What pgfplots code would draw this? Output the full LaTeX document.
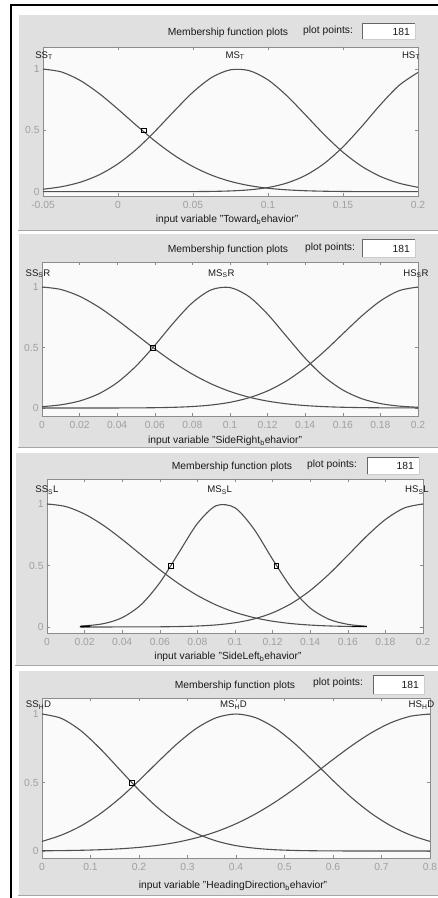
\documentclass[border=0pt]{standalone}
\usepackage{pgfplots}
\pgfplotsset{compat=1.18}
\usepackage{fontspec}
\setmainfont{Liberation Sans}
\definecolor{panel}{HTML}{E0E0E0}
\definecolor{axbg}{HTML}{FAFAFA}
\definecolor{boxgray}{HTML}{8C8C8C}
\definecolor{tickgray}{HTML}{A0A0A0}
\definecolor{curve}{HTML}{505050}
\definecolor{txt}{HTML}{1A1A1A}
\newcommand\sz{\fontsize{10.3bp}{12bp}\selectfont}
\newcommand\lz{\fontsize{9.6bp}{11bp}\selectfont}
\pgfplotsset{
  mf/.style={
    scale only axis, anchor=south west,
    axis background/.style={fill=axbg},
    axis line style={draw=boxgray, line width=0.7bp},
    tick align=inside, major tick length=3bp,
    tick style={draw=boxgray, line width=0.6bp},
    ytick={0,0.5,1}, yticklabels={0,0.5,1},
    ticklabel style={font=\sz, text=tickgray},
    xticklabel style={yshift=-1.5bp},
    /pgf/number format/assume math mode=true,
    clip=false,
  },
  crv/.style={draw=curve, line width=1.1bp, smooth, mark=none},
  sel/.style={only marks, mark=square, mark size=2.4bp, mark options={draw=black, line width=0.6bp, fill=none}},
}
\begin{document}
\begin{tikzpicture}[x=1bp,y=1bp]
\useasboundingbox (0,0) rectangle (438,898);
\fill[white] (0,0) rectangle (438,898);
% panels
\fill[panel] (18,668) rectangle (438,883);
\fill[panel] (18,451) rectangle (438,664);
\fill[panel] (15,233) rectangle (438,445);
\fill[panel] (18,3) rectangle (438,227);
\draw[white, line width=1bp] (18,668) -- (18,883) -- (438,883);
\draw[white, line width=1bp] (18,451) -- (18,664) -- (438,664);
\draw[white, line width=1bp] (15,233) -- (15,445) -- (438,445);
\draw[white, line width=1bp] (18,3) -- (18,227) -- (438,227);
\draw[black!35, line width=0.8bp] (18,668) -- (438,668);
\draw[black!35, line width=0.8bp] (18,451) -- (438,451);
\draw[black!35, line width=0.8bp] (15,233) -- (438,233);
\draw[black!35, line width=0.8bp] (18,3) -- (438,3);
% outer border
\draw[black, line width=2bp] (11,0) -- (11,892.5) -- (438,892.5);

% ---------- Panel 1 ----------
\begin{axis}[mf, at={(43bp,702bp)}, width=375bp, height=149bp,
  xmin=-0.05, xmax=0.2, ymin=-0.035, ymax=1.18,
  xtick={-0.05,0,0.05,0.1,0.15,0.2}, xticklabels={-0.05,0,0.05,0.1,0.15,0.2}]
\addplot[crv] coordinates {(-0.05,1) (-0.0375,0.9755) (-0.025,0.9056) (-0.0125,0.800) (0,0.6725) (0.0125,0.538) (0.025,0.4095) (0.0375,0.2967) (0.05,0.2045) (0.0625,0.1341) (0.075,0.0837) (0.0875,0.0497) (0.1,0.0281) (0.1125,0.0151) (0.125,0.0077) (0.1375,0.0038) (0.15,0.0017) (0.1625,0.0007) (0.175,0.0003) (0.1875,0.0001) (0.2,0)};
\addplot[crv] coordinates {(-0.05,0.020) (-0.0375,0.0409) (-0.025,0.0779) (-0.0125,0.138) (0,0.2274) (0.0125,0.348) (0.025,0.4965) (0.0375,0.658) (0.05,0.812) (0.0625,0.9316) (0.075,0.994) (0.0875,0.987) (0.1,0.9116) (0.1125,0.783) (0.125,0.6258) (0.1375,0.4652) (0.15,0.3217) (0.1625,0.2069) (0.175,0.1238) (0.1875,0.0689) (0.2,0.0357)};
\addplot[crv] coordinates {(-0.05,0) (-0.025,0) (0,0) (0.025,0.0001) (0.0375,0.0003) (0.05,0.0008) (0.0625,0.0023) (0.075,0.0062) (0.0875,0.0151) (0.1,0.034) (0.1125,0.0703) (0.125,0.1329) (0.1375,0.2304) (0.15,0.3658) (0.1625,0.532) (0.175,0.710) (0.1875,0.868) (0.2,0.9725)};
\addplot[sel] coordinates {(0.017,0.5)};
\node[anchor=base, font=\lz, text=txt, xshift=1bp] at (axis cs:-0.05,1.09) {SS\textsubscript{T}};
\node[anchor=base, font=\lz, text=txt, xshift=-3bp] at (axis cs:0.08,1.09) {MS\textsubscript{T}};
\node[anchor=base, font=\lz, text=txt, xshift=-7bp] at (axis cs:0.2,1.09) {HS\textsubscript{T}};
\end{axis}

% ---------- Panel 2 ----------
\begin{axis}[mf, at={(42bp,482bp)}, width=376bp, height=154bp,
  xmin=0, xmax=0.2, ymin=-0.066, ymax=1.207,
  xtick={0,0.02,0.04,0.06,0.08,0.1,0.12,0.14,0.16,0.18,0.2},
  xticklabels={0,0.02,0.04,0.06,0.08,0.1,0.12,0.14,0.16,0.18,0.2}]
\addplot[crv] coordinates {(0,1) (0.01,0.980) (0.02,0.9235) (0.03,0.836) (0.04,0.727) (0.05,0.608) (0.06,0.488) (0.07,0.377) (0.08,0.2797) (0.09,0.1994) (0.1,0.1366) (0.11,0.0899) (0.12,0.0569) (0.13,0.0346) (0.14,0.0202) (0.15,0.0113) (0.16,0.0061) (0.17,0.0032) (0.18,0.0016) (0.19,0.0008) (0.2,0.0004)};
\addplot[crv] coordinates {(0,0.0109) (0.01,0.0264) (0.02,0.058) (0.03,0.1159) (0.04,0.210) (0.05,0.3463) (0.06,0.518) (0.07,0.705) (0.08,0.8705) (0.09,0.9768) (0.1,0.9957) (0.11,0.922) (0.12,0.7757) (0.13,0.5929) (0.14,0.4116) (0.15,0.2596) (0.16,0.1488) (0.17,0.0774) (0.18,0.0366) (0.19,0.0157) (0.2,0.0061)};
\addplot[crv] coordinates {(0,0) (0.01,0) (0.02,0) (0.03,0.0001) (0.04,0.0004) (0.05,0.0010) (0.06,0.0025) (0.07,0.0057) (0.08,0.0122) (0.09,0.0247) (0.1,0.047) (0.11,0.084) (0.12,0.1413) (0.13,0.2235) (0.14,0.3326) (0.15,0.4656) (0.16,0.613) (0.17,0.7594) (0.18,0.885) (0.19,0.970) (0.2,1)};
\addplot[sel] coordinates {(0.059,0.5)};
\node[anchor=base, font=\lz, text=txt, xshift=-4bp] at (axis cs:0,1.09) {SS\textsubscript{S}R};
\node[anchor=base, font=\lz, text=txt, xshift=-3bp] at (axis cs:0.097,1.09) {MS\textsubscript{S}R};
\node[anchor=base, font=\lz, text=txt, xshift=-2bp] at (axis cs:0.2,1.09) {HS\textsubscript{S}R};
\end{axis}

% ---------- Panel 3 ----------
\begin{axis}[mf, at={(47bp,265bp)}, width=376bp, height=154bp,
  xmin=0, xmax=0.2, ymin=-0.049, ymax=1.203,
  xtick={0,0.02,0.04,0.06,0.08,0.1,0.12,0.14,0.16,0.18,0.2},
  xticklabels={0,0.02,0.04,0.06,0.08,0.1,0.12,0.14,0.16,0.18,0.2}]
\addplot[crv] coordinates {(0,1) (0.01,0.979) (0.02,0.918) (0.03,0.826) (0.04,0.7115) (0.05,0.5875) (0.06,0.465) (0.07,0.3525) (0.08,0.2562) (0.09,0.1785) (0.1,0.1191) (0.11,0.0762) (0.12,0.0467) (0.13,0.0274) (0.14,0.0154) (0.15,0.0083) (0.16,0.0043) (0.17,0.0021)};
\addplot[crv] coordinates {(0.018,0.006) (0.03,0.0267) (0.04,0.0759) (0.05,0.1805) (0.06,0.3598) (0.07,0.601) (0.08,0.841) (0.09,0.986) (0.1,0.9687) (0.11,0.7975) (0.12,0.550) (0.13,0.318) (0.14,0.154) (0.15,0.0625) (0.16,0.0213) (0.17,0.006)};
\addplot[crv] coordinates {(0.018,0) (0.03,0.0001) (0.04,0.0002) (0.05,0.0005) (0.06,0.0013) (0.07,0.0033) (0.08,0.0077) (0.09,0.0168) (0.1,0.0341) (0.11,0.0648) (0.12,0.115) (0.13,0.191) (0.14,0.2964) (0.15,0.4297) (0.16,0.5824) (0.17,0.738) (0.18,0.8736) (0.19,0.967) (0.2,1)};
\addplot[black, line width=1.6bp] coordinates {(0.0175,0.003) (0.023,0.006)};
\addplot[black, line width=1.6bp] coordinates {(0.162,0.004) (0.17,0.004)};
\addplot[sel] coordinates {(0.066,0.5) (0.122,0.5)};
\node[anchor=base, font=\lz, text=txt, xshift=0bp] at (axis cs:0,1.09) {SS\textsubscript{S}L};
\node[anchor=base, font=\lz, text=txt, xshift=-4bp] at (axis cs:0.094,1.09) {MS\textsubscript{S}L};
\node[anchor=base, font=\lz, text=txt, xshift=-6bp] at (axis cs:0.2,1.09) {HS\textsubscript{S}L};
\end{axis}

% ---------- Panel 4 ----------
\begin{axis}[mf, at={(42bp,40bp)}, width=388bp, height=160bp,
  xmin=0, xmax=0.8, ymin=-0.051, ymax=1.117,
  xtick={0,0.1,0.2,0.3,0.4,0.5,0.6,0.7,0.8},
  xticklabels={0,0.1,0.2,0.3,0.4,0.5,0.6,0.7,0.8}]
\addplot[crv] coordinates {(0,1) (0.04,0.968) (0.08,0.8785) (0.12,0.747) (0.16,0.5955) (0.2,0.445) (0.24,0.3116) (0.28,0.2045) (0.32,0.1258) (0.36,0.0726) (0.4,0.0392) (0.44,0.0199) (0.48,0.0094) (0.52,0.0042) (0.56,0.0018) (0.6,0.0007) (0.64,0.0003) (0.68,0.0001) (0.72,0) (0.76,0) (0.8,0)};
\addplot[crv] coordinates {(0,0.070) (0.04,0.1162) (0.08,0.1825) (0.12,0.272) (0.16,0.3841) (0.2,0.5145) (0.24,0.6536) (0.28,0.7873) (0.32,0.8991) (0.36,0.9738) (0.4,1) (0.44,0.9738) (0.48,0.8991) (0.52,0.7873) (0.56,0.6536) (0.6,0.5145) (0.64,0.3841) (0.68,0.272) (0.72,0.1825) (0.76,0.1162) (0.8,0.070)};
\addplot[crv] coordinates {(0,0.0016) (0.04,0.0029) (0.08,0.0053) (0.12,0.0094) (0.16,0.016) (0.2,0.0264) (0.24,0.0422) (0.28,0.0653) (0.32,0.0978) (0.36,0.1418) (0.4,0.199) (0.44,0.2704) (0.48,0.3558) (0.52,0.4533) (0.56,0.5592) (0.6,0.668) (0.64,0.7724) (0.68,0.8648) (0.72,0.9375) (0.76,0.984) (0.8,1)};
\addplot[sel] coordinates {(0.185,0.5)};
\node[anchor=base, font=\lz, text=txt, xshift=-3.5bp] at (axis cs:0,1.045) {SS\textsubscript{H}D};
\node[anchor=base, font=\lz, text=txt, xshift=-2.5bp] at (axis cs:0.4,1.045) {MS\textsubscript{H}D};
\node[anchor=base, font=\lz, text=txt, xshift=-8.5bp] at (axis cs:0.8,1.045) {HS\textsubscript{H}D};
\end{axis}

% ---------- titles, plot points boxes, x labels ----------
\foreach \tx/\ty/\px/\py/\bxa/\bxb/\bya/\byb in
  {228/865/303/867/362/415/859/874,
   228/648/305/650/362/415/641/658,
   232/431/307/433/367/419/424/440,
   235/212/313/215/373/424/204/222}{
  \node[font=\sz, text=txt] at (\tx,\ty) {Membership function plots};
  \node[font=\sz, text=txt, anchor=west, inner sep=0pt] at (\px,\py) {plot points:};
  \fill[white] (\bxa,\bya) rectangle (\bxb,\byb);
  \draw[black!60, line width=1bp] (\bxa,\bya) -- (\bxa,\byb) -- (\bxb,\byb);
  \draw[black!20, line width=0.6bp] (\bxa,\bya) -- (\bxb,\bya) -- (\bxb,\byb);
  \node[font=\sz, text=txt, anchor=east, inner sep=0pt] at ({\bxb-5},{(\bya+\byb)/2}) {181};
}
\node[font=\sz, text=txt] at (227,678) {input variable "Toward\textsubscript{b}ehavior"};
\node[font=\sz, text=txt] at (225,457) {input variable "SideRight\textsubscript{b}ehavior"};
\node[font=\sz, text=txt] at (228,241) {input variable "SideLeft\textsubscript{b}ehavior"};
\node[font=\sz, text=txt] at (233,12) {input variable "HeadingDirection\textsubscript{b}ehavior"};
\end{tikzpicture}
\end{document}
